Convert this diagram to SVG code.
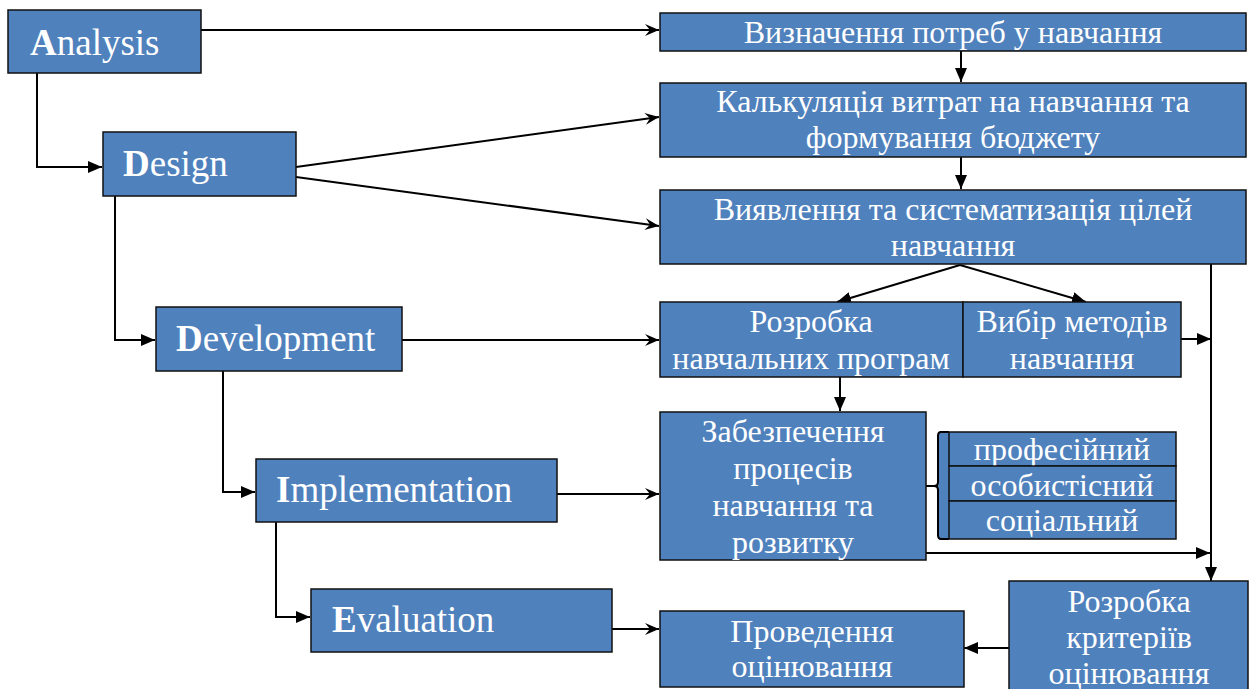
<svg xmlns="http://www.w3.org/2000/svg" width="1252" height="689" viewBox="0 0 1252 689">
<style>
.box{fill:#4F81BD;stroke:#111;stroke-width:1.5}
.t{font-family:"Liberation Serif","Times New Roman",serif;fill:#fff;font-size:32px;text-anchor:middle}
.s{font-family:"Liberation Serif","Times New Roman",serif;fill:#fff;font-size:37px}
.s tspan.b{font-weight:bold}
.c{fill:none;stroke:#000;stroke-width:2}
</style>
<defs>
<marker id="f" viewBox="0 0 14 12" refX="14" refY="6" markerWidth="14" markerHeight="12" markerUnits="userSpaceOnUse" orient="auto">
<path d="M0,0 L14,6 L0,12 z" fill="#000"/>
</marker>
<marker id="v" viewBox="0 0 14 12" refX="14" refY="6" markerWidth="14" markerHeight="12" markerUnits="userSpaceOnUse" orient="auto">
<path d="M0,0 L14,6 L0,12 L5,6 z" fill="#000"/>
</marker>
</defs>
<rect width="1252" height="689" fill="#fff"/>
<g id="connectors">
<path class="c" d="M201,30 L659,30" marker-end="url(#v)"/>
<path class="c" d="M37,73 L37,167 L102,167" marker-end="url(#f)"/>
<path class="c" d="M296,167 L659,117" marker-end="url(#v)"/>
<path class="c" d="M296,177 L659,226" marker-end="url(#v)"/>
<path class="c" d="M115,196 L115,340 L155,340" marker-end="url(#f)"/>
<path class="c" d="M402,340 L659,340" marker-end="url(#v)"/>
<path class="c" d="M223,371 L223,492 L255,492" marker-end="url(#f)"/>
<path class="c" d="M557,494 L659,494" marker-end="url(#v)"/>
<path class="c" d="M276,522 L276,617 L310,617" marker-end="url(#f)"/>
<path class="c" d="M612,629 L659,629" marker-end="url(#v)"/>
<path class="c" d="M961,51 L961,82" marker-end="url(#f)"/>
<path class="c" d="M961,157 L961,189" marker-end="url(#f)"/>
<path class="c" d="M960,265 L837,302" marker-end="url(#f)"/>
<path class="c" d="M960,265 L1086,302" marker-end="url(#f)"/>
<path class="c" d="M840,377 L840,411" marker-end="url(#f)"/>
<path class="c" d="M1181,339 L1211,339" marker-end="url(#f)"/>
<path class="c" d="M1211,264 L1211,581" marker-end="url(#f)"/>
<path class="c" d="M926,553 L1210,553" marker-end="url(#f)"/>
<path class="c" d="M1009,648 L964,648" marker-end="url(#f)"/>
<path class="c" d="M926,486 L938,486"/>
</g>
<g id="analysis"><rect class="box" x="8" y="10" width="193" height="63"/><text class="s" x="30" y="55"><tspan class="b">A</tspan>nalysis</text></g>
<g id="design"><rect class="box" x="103" y="132" width="193" height="64"/><text class="s" x="123" y="176"><tspan class="b">D</tspan>esign</text></g>
<g id="development"><rect class="box" x="156" y="307" width="246" height="64"/><text class="s" x="176" y="351"><tspan class="b">D</tspan>evelopment</text></g>
<g id="implementation"><rect class="box" x="256" y="459" width="301" height="63"/><text class="s" x="276" y="502"><tspan class="b">I</tspan>mplementation</text></g>
<g id="evaluation"><rect class="box" x="311" y="589" width="301" height="63"/><text class="s" x="332" y="632"><tspan class="b">E</tspan>valuation</text></g>
<g id="needs"><rect class="box" x="660" y="13" width="586" height="38"/><text class="t" x="953" y="43">Визначення потреб у навчання</text></g>
<g id="budget"><rect class="box" x="660" y="83" width="586" height="74"/><text class="t" x="953" y="112">Калькуляція витрат на навчання та</text><text class="t" x="953" y="148">формування бюджету</text></g>
<g id="goals"><rect class="box" x="660" y="190" width="586" height="74"/><text class="t" x="953" y="220">Виявлення та систематизація цілей</text><text class="t" x="953" y="256">навчання</text></g>
<g id="programs"><rect class="box" x="660" y="302" width="303" height="75"/><text class="t" x="811" y="332">Розробка</text><text class="t" x="811" y="369">навчальних програм</text></g>
<g id="methods"><rect class="box" x="963" y="302" width="218" height="75"/><text class="t" x="1072" y="332">Вибір методів</text><text class="t" x="1072" y="369">навчання</text></g>
<g id="provision"><rect class="box" x="660" y="412" width="266" height="148"/><text class="t" x="793" y="442">Забезпечення</text><text class="t" x="793" y="479">процесів</text><text class="t" x="793" y="516">навчання та</text><text class="t" x="793" y="553">розвитку</text></g>
<g id="aspects">
<rect x="938" y="432" width="238" height="107" fill="#4F81BD"/>
<path class="c" d="M949,432 L941,432 Q938,432 938,436 L938,482 Q938,486 934,486 Q938,486 938,490 L938,535 Q938,539 941,539 L949,539" stroke-width="1.8"/>
<rect class="box" x="949" y="432" width="227" height="34"/><text class="t" x="1062" y="460">професійний</text>
<rect class="box" x="949" y="466" width="227" height="35"/><text class="t" x="1062" y="496">особистісний</text>
<rect class="box" x="949" y="501" width="227" height="38"/><text class="t" x="1062" y="531">соціальний</text>
</g>
<g id="criteria"><rect class="box" x="1009" y="581" width="239" height="112"/><text class="t" x="1129" y="612">Розробка</text><text class="t" x="1129" y="648">критеріїв</text><text class="t" x="1129" y="684">оцінювання</text></g>
<g id="assessment"><rect class="box" x="660" y="611" width="304" height="76"/><text class="t" x="812" y="642">Проведення</text><text class="t" x="812" y="677">оцінювання</text></g>
</svg>
